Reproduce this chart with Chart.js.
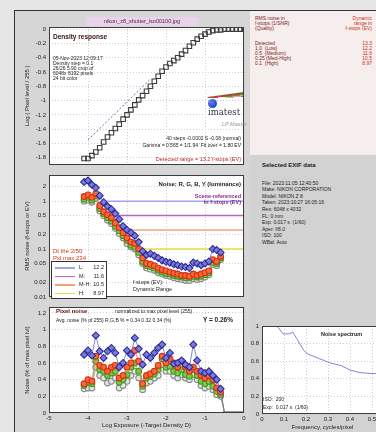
<!DOCTYPE html>
<html>
<head>
<meta charset="utf-8">
<script src="https://cdn.jsdelivr.net/npm/chart.js@4.4.0/dist/chart.umd.min.js"></script>
<style>
html, body { margin: 0; padding: 0; width: 376px; height: 432px; overflow: hidden; background: #e6e6e6; }
body { position: relative; font-family: 'Liberation Sans', Arial, sans-serif; }
.box { position: absolute; box-sizing: border-box; }
canvas { position: absolute; }
.t { position: absolute; white-space: nowrap; font-size: 5.5px; line-height: 1; color: #222; }
.b { font-weight: bold; }
</style>
</head>
<body>
<!-- figure backgrounds -->
<div class="box" style="left:14px;top:10px;width:236px;height:422px;background:#d6d6d6;border-left:1px solid #333;border-top:1px solid #333;"></div>
<div class="box" style="left:250px;top:10px;width:126px;height:145px;background:#f6eeec;border-top:1px solid #333;"></div>
<div class="box" style="left:250px;top:155px;width:126px;height:277px;background:#d2d2d2;"></div>

<canvas id="densityChart" width="236" height="156" style="left:14px;top:14px;"></canvas>
<canvas id="noiseChart" width="236" height="132" style="left:14px;top:170px;"></canvas>
<canvas id="pixelChart" width="236" height="130" style="left:14px;top:302px;"></canvas>
<canvas id="spectrumChart" width="142" height="114" style="left:250px;top:318px;"></canvas>

<!-- density response texts -->
<div class="box" style="left:86px;top:17px;width:112px;height:9px;background:#e9d3e9;"></div>
<div class="t" style="left:86px;top:19px;width:112px;text-align:center;color:#5a2050;">nikon_z8_shutter_iso00100.jpg</div>
<div class="t b" style="left:53px;top:34px;font-size:6.5px;color:#3a1010;">Density response</div>
<div class="t" style="left:53px;top:55.5px;font-size:5px;">05-Nov-2023 12:09:17</div>
<div class="t" style="left:53px;top:60.5px;font-size:5px;">Density step = 0.1</div>
<div class="t" style="left:53px;top:65.5px;font-size:5px;">26/26 5.90 crop of</div>
<div class="t" style="left:53px;top:70.5px;font-size:5px;">6048x 8192 pixels</div>
<div class="t" style="left:53px;top:75.5px;font-size:5px;">24 bit color</div>
<div class="box" style="left:207px;top:92px;width:0;height:0;border-left:36px solid transparent;border-bottom:5px solid #30b030;"></div>
<div class="box" style="left:207px;top:93px;width:36px;height:5px;background:linear-gradient(172deg, transparent 45%, #e03040 46%, #e03040 60%, transparent 61%, transparent 70%, #f0a0b0 71%, #f0a0b0 82%, transparent 83%);"></div>
<div class="box" style="left:208px;top:99px;width:9px;height:9px;border-radius:50%;background:radial-gradient(circle at 35% 35%, #6080ff, #1030a0);"></div>
<div class="t" style="left:208px;top:108px;font-size:8.5px;font-family:'DejaVu Serif',serif;color:#303850;">imatest</div>
<div class="t" style="left:222px;top:122px;font-size:5.5px;font-style:italic;color:#999;">LP Master</div>
<div class="t" style="right:135px;top:136px;font-size:5px;">40 steps -0.0002 S -0.08 (normal)</div>
<div class="t" style="right:135px;top:143px;font-size:5px;">Gamma = 0.565 = 1/1.94 &nbsp;Fit over = 1.80 EV</div>
<div class="t" style="right:135px;top:157px;font-size:5.5px;color:#c02020;">Detected range = 13.2 f-stops (EV)</div>

<!-- noise texts -->
<div class="t b" style="right:135px;top:181px;font-size:6px;">Noise: R, G, B, Y (luminance)</div>
<div class="t b" style="right:135px;top:194px;color:#8a2a8a;">Scene-referenced</div>
<div class="t b" style="right:135px;top:199.5px;color:#8a2a8a;">in f-stops (EV)</div>
<div class="t" style="left:53px;top:248px;font-size:6px;color:#e03010;">Dt the 2/50</div>
<div class="t" style="left:53px;top:254.5px;font-size:6px;color:#e03010;">Pxl max 234</div>
<div class="t" style="left:133px;top:280px;">f-stops (EV):</div>
<div class="t" style="left:133px;top:287px;">Dynamic Range</div>
<div class="box" id="legendBox" style="left:51px;top:261px;width:56px;height:38px;background:#fff;border:1px solid #333;"></div>

<!-- pixel noise texts -->
<div class="t b" style="left:56px;top:308px;font-size:6px;color:#6a1010;">Pixel noise</div>
<div class="t" style="left:115px;top:309px;font-size:5px;">normalized to max pixel level (255)</div>
<div class="t" style="left:56px;top:318px;font-size:5px;">Avg. noise (% of 255) R,G,B % = 0.34 0.32 0.34 (%)</div>
<div class="t b" style="right:143px;top:317px;font-size:6.5px;">Y = 0.26%</div>

<!-- right panel -->
<div class="t" style="left:255px;top:15.5px;font-size:5px;color:#802020;">RMS noise in</div>
<div class="t" style="left:255px;top:20.5px;font-size:5px;color:#802020;">f-stops (1/SNR)</div>
<div class="t" style="left:255px;top:25.5px;font-size:5px;color:#802020;">(Quality)</div>
<div class="t" style="right:4px;top:15.5px;font-size:5px;color:#cc2a20;text-align:right;">Dynamic</div>
<div class="t" style="right:4px;top:20.5px;font-size:5px;color:#cc2a20;">range in</div>
<div class="t" style="right:4px;top:25.5px;font-size:5px;color:#cc2a20;">f-stops (EV)</div>
<div id="drTable"></div>

<div class="t b" style="left:262px;top:162px;font-size:6px;">Selected EXIF data</div>
<div id="exifList"></div>

<!-- spectrum texts -->
<div class="t b" style="left:321px;top:332px;font-size:5.5px;">Noise spectrum</div>
<div class="t" style="left:263px;top:397px;font-size:5px;">ISO: &nbsp;200</div>
<div class="t" style="left:263px;top:405px;font-size:5px;">Exp: &nbsp;0.017 s &nbsp;(1/60)</div>

<script>
// x positions (log exposure), one per density step
const logExposure = [-4.1, -4.0, -3.9, -3.8, -3.7, -3.6, -3.5, -3.4, -3.3, -3.2, -3.1, -3.0, -2.9, -2.8,
    -2.7, -2.6, -2.5, -2.4, -2.3, -2.2, -2.1, -2.0, -1.9, -1.8, -1.7, -1.6, -1.5, -1.4, -1.3, -1.2,
    -1.1, -1.0, -0.9, -0.8, -0.7, -0.6, -0.5, -0.4, -0.3, -0.2, -0.1, 0.0];
const densityLevel = [-1.81, -1.81, -1.77, -1.72, -1.66, -1.58, -1.51, -1.45, -1.39, -1.33, -1.26, -1.20,
    -1.13, -1.06, -0.99, -0.93, -0.87, -0.80, -0.73, -0.66, -0.59, -0.53, -0.48, -0.44, -0.40, -0.35,
    -0.30, -0.24, -0.19, -0.14, -0.10, -0.07, -0.04, -0.02, -0.01, -0.01, 0, 0, 0, 0, 0, 0];
const gammaFitX = [-4.0, -2.4];
const gammaFitY = [-1.55, -0.70];

// RMS noise in f-stops, x = -4.1 .. -0.6
const noiseB = [2.5, 2.7, 2.2, 1.9, 1.3, 0.95, 0.78, 0.68, 0.55, 0.42, 0.30, 0.25, 0.22, 0.19, 0.14, 0.09,
    0.075, 0.08, 0.072, 0.065, 0.058, 0.054, 0.052, 0.048, 0.046, 0.043, 0.042, 0.040, 0.052, 0.050,
    0.046, 0.050, 0.055, 0.10, 0.095, 0.085];
const noiseR = [1.25, 1.35, 1.2, 1.45, 0.80, 0.60, 0.52, 0.45, 0.35, 0.28, 0.22, 0.17, 0.14, 0.13, 0.10,
    0.065, 0.050, 0.048, 0.045, 0.040, 0.037, 0.035, 0.033, 0.031, 0.030, 0.028, 0.028, 0.027, 0.030,
    0.028, 0.030, 0.032, 0.035, 0.060, 0.055, 0.070];
const noiseG = [1.1, 1.2, 1.05, 1.3, 0.70, 0.55, 0.45, 0.38, 0.30, 0.24, 0.19, 0.15, 0.12, 0.11, 0.085,
    0.055, 0.045, 0.043, 0.040, 0.036, 0.033, 0.031, 0.030, 0.028, 0.027, 0.026, 0.025, 0.025, 0.027,
    0.026, 0.027, 0.029, 0.032, 0.052, 0.050, 0.065];
const noiseY = [1.0, 1.05, 0.95, 1.15, 0.62, 0.50, 0.40, 0.34, 0.27, 0.21, 0.17, 0.13, 0.11, 0.10, 0.075,
    0.050, 0.040, 0.038, 0.036, 0.032, 0.030, 0.028, 0.027, 0.025, 0.024, 0.023, 0.022, 0.022, 0.024,
    0.023, 0.024, 0.026, 0.029, 0.047, 0.045, 0.060];

// quality thresholds drawn as horizontal lines
const qualityLevels = [1.0, 0.5, 0.25, 0.1];
const qualityStart = [-3.65, -3.4, -3.05, -2.65];
const qualityNames = ['L:', 'M:', 'M-H:', 'H:'];
const qualityColors = ['#a4a4ec', '#c460c4', '#f2a478', '#e8dc40'];
const qualityLabels = ['1.0  (Low)', '0.5  (Medium)', '0.25 (Med-High)', '0.1  (High)'];
const dynamicRange = ['12.2', '11.6', '10.5', '8.97'];
const detectedRange = '13.3';

// pixel noise (% of 255), x = -4.1 .. -0.5 (last one saturated)
const pixelB = [0.70, 0.75, 0.69, 0.93, 0.74, 0.66, 0.74, 0.78, 0.72, 0.55, 0.60, 0.75, 0.70, 0.90, 0.77,
    0.58, 0.70, 0.66, 0.72, 0.78, 0.82, 0.66, 0.72, 0.59, 0.60, 0.63, 0.58, 0.55, 0.82, 0.63, 0.50,
    0.48, 0.50, 0.45, 0.40, 0.29, 0];
const pixelR = [0.35, 0.40, 0.38, 0.68, 0.57, 0.55, 0.50, 0.55, 0.57, 0.42, 0.45, 0.55, 0.60, 0.75, 0.62,
    0.35, 0.45, 0.47, 0.50, 0.57, 0.68, 0.60, 0.65, 0.60, 0.55, 0.62, 0.55, 0.50, 0.55, 0.50, 0.45,
    0.42, 0.45, 0.40, 0.30, 0.25, 0];
const pixelG = [0.33, 0.37, 0.35, 0.62, 0.52, 0.50, 0.45, 0.48, 0.50, 0.37, 0.40, 0.46, 0.55, 0.60, 0.50,
    0.32, 0.42, 0.44, 0.47, 0.52, 0.65, 0.55, 0.56, 0.50, 0.48, 0.52, 0.46, 0.44, 0.52, 0.45, 0.38,
    0.35, 0.38, 0.32, 0.26, 0.22, 0];
const pixelY = [0.29, 0.30, 0.30, 0.55, 0.45, 0.42, 0.36, 0.38, 0.42, 0.30, 0.33, 0.38, 0.45, 0.50, 0.42,
    0.28, 0.36, 0.38, 0.42, 0.45, 0.58, 0.50, 0.50, 0.45, 0.42, 0.46, 0.42, 0.40, 0.46, 0.40, 0.33,
    0.30, 0.32, 0.28, 0.22, 0.20, 0];
const saturatedY = [0, 0, 0, 0, 0, 0];

// noise spectrum
const spectrumFreq = [0.04, 0.068, 0.096, 0.123, 0.14, 0.16, 0.19, 0.21, 0.25, 0.31, 0.36, 0.40, 0.445, 0.50, 0.55];
const spectrumPower = [1.08, 1.0, 0.91, 0.91, 0.93, 0.85, 0.72, 0.68, 0.64, 0.58, 0.55, 0.50, 0.47, 0.46, 0.46];

// tick labels
const exposureTicks = [-5, -4, -3, -2, -1, 0];
const densityTicks = [0, -0.2, -0.4, -0.6, -0.8, -1, -1.2, -1.4, -1.6, -1.8];
const noiseTicks = [0.01, 0.02, 0.05, 0.1, 0.2, 0.5, 1, 2];
const pixelTicks = [0, 0.2, 0.4, 0.6, 0.8, 1, 1.2];
const freqTicks = [0, 0.1, 0.2, 0.3, 0.4, 0.5];
const spectrumTicks = [0, 0.2, 0.4, 0.6, 0.8, 1];

const exifLines = ['File: 2023:11:05 12:40:50', 'Make: NIKON CORPORATION', 'Model: NIKON Z 8',
    'Taken: 2023:10:27 16:05:16', 'Res: 6048 x 4032', 'FL: 0 mm', 'Exp: 0.017 s  (1/60)',
    'Aper: f/8.0', 'ISO: 100', 'WBal: Auto'];

const tickFont = { family: "'Liberation Sans', Arial, sans-serif", size: 6 };
const titleFont = { family: "'Liberation Sans', Arial, sans-serif", size: 6 };

function pts(xs, ys) {
    return ys.map((y, i) => ({ x: xs[i], y: y }));
}

// pin axis size and drop the automatic label padding so plot boxes land where we want
function pinAxis(size) {
    return function (scale) {
        if (scale.isHorizontal()) scale.height = size; else scale.width = size;
        scale.paddingTop = 0; scale.paddingBottom = 0;
        scale.paddingLeft = 0; scale.paddingRight = 0;
    };
}

function fixTicks(values) {
    return function (scale) { scale.ticks = values.map(v => ({ value: v })); };
}

function fmt(v) {
    return String(Number(v.toFixed(2)));
}

function axis(opts) {
    return {
        type: opts.type || 'linear',
        min: opts.min,
        max: opts.max,
        afterBuildTicks: fixTicks(opts.ticks),
        afterFit: pinAxis(opts.size),
        grid: { color: '#cdcdcd', lineWidth: 1, drawTicks: false },
        border: { display: false, dash: [1, 2] },
        ticks: { display: opts.labels !== false, color: '#222', font: tickFont, padding: opts.pad || 3,
            autoSkip: false, maxRotation: 0, callback: v => fmt(v) },
        title: opts.title ? { display: true, text: opts.title, color: '#222', font: titleFont,
            padding: opts.titlePad } : { display: false }
    };
}

const plotFrame = {
    id: 'plotFrame',
    beforeDraw(chart) {
        const a = chart.chartArea, ctx = chart.ctx;
        ctx.save();
        ctx.fillStyle = '#fff';
        ctx.fillRect(a.left, a.top, a.right - a.left, a.bottom - a.top);
        ctx.restore();
    },
    afterDraw(chart) {
        const a = chart.chartArea, ctx = chart.ctx;
        ctx.save();
        ctx.strokeStyle = '#3c3c3c';
        ctx.lineWidth = 1;
        ctx.strokeRect(Math.round(a.left) + 0.5, Math.round(a.top) + 0.5,
            Math.round(a.right - a.left) - 1, Math.round(a.bottom - a.top) - 1);
        ctx.restore();
    }
};

const baseOptions = {
    responsive: false,
    animation: false,
    devicePixelRatio: 1,
    plugins: { legend: { display: false }, tooltip: { enabled: false } }
};

function marker(style, border, fill, line) {
    return { showLine: true, borderColor: line, borderWidth: 0.8, pointStyle: style,
        pointBorderColor: border, pointBackgroundColor: fill, pointBorderWidth: 1.1,
        pointRadius: ctx => (ctx.raw && ctx.raw.y === 0 ? 0 : (style === 'rectRot' ? 3.5 : 2.9)) };
}

const blueStyle = marker('rectRot', '#2a2a9a', '#7a7ad8', '#6a6acc');
const redStyle = marker('circle', '#d83010', '#f46a3a', '#f07050');
const greenStyle = marker('circle', '#3c9c1c', '#7cc84a', '#78c050');
const grayStyle = marker('circle', '#8a8a8a', '#e4e4e4', '#a0a0a0');

const noiseX = logExposure.slice(0, noiseB.length);
const pixelX = logExposure.slice(0, pixelB.length);
const saturatedX = logExposure.slice(pixelB.length - 1, pixelB.length - 1 + saturatedY.length);

Chart.defaults.font.family = "'Liberation Sans', Arial, sans-serif";

// density response
new Chart(document.getElementById('densityChart'), {
    type: 'scatter',
    data: {
        datasets: [{
            data: pts(logExposure, densityLevel),
            pointStyle: 'rect', pointRadius: 3.2, borderColor: '#3a3a3a', backgroundColor: 'rgba(0,0,0,0)',
            borderWidth: 1.1
        }, {
            data: pts(gammaFitX, gammaFitY),
            showLine: true, pointRadius: 0, borderColor: '#6a6ac8', borderWidth: 1, borderDash: [2, 2]
        }]
    },
    options: Object.assign({}, baseOptions, {
        layout: { padding: { top: 13, right: 6, bottom: 2, left: 0 } },
        scales: {
            x: axis({ min: -5, max: 0, ticks: exposureTicks, size: 0, labels: false }),
            y: axis({ min: -1.9, max: 0.03, ticks: densityTicks, size: 35,
                title: 'Log ( Pixel level / 255 )', titlePad: { top: 10 } })
        }
    }),
    plugins: [plotFrame]
});

// noise in f-stops
const noiseSets = [
    Object.assign({ data: pts(noiseX, noiseB) }, blueStyle),
    Object.assign({ data: pts(noiseX, noiseR) }, redStyle),
    Object.assign({ data: pts(noiseX, noiseG) }, greenStyle),
    Object.assign({ data: pts(noiseX, noiseY) }, grayStyle)
];
qualityLevels.forEach((q, i) => {
    noiseSets.push({ data: [{ x: qualityStart[i], y: q }, { x: 0, y: q }], showLine: true, pointRadius: 0,
        borderColor: qualityColors[i], borderWidth: 1.5 });
});
new Chart(document.getElementById('noiseChart'), {
    type: 'scatter',
    data: { datasets: noiseSets },
    options: Object.assign({}, baseOptions, {
        layout: { padding: { top: 3, right: 6, bottom: 2, left: 0 } },
        scales: {
            x: axis({ min: -5, max: 0, ticks: exposureTicks, size: 0, labels: false }),
            y: axis({ type: 'logarithmic', min: 0.01, max: 3.5, ticks: noiseTicks, size: 35,
                title: 'RMS noise (f-stops or EV)', titlePad: { top: 10 } })
        }
    }),
    plugins: [plotFrame]
});

// pixel noise
new Chart(document.getElementById('pixelChart'), {
    type: 'scatter',
    data: {
        datasets: [
            Object.assign({ data: pts(pixelX, pixelB) }, blueStyle),
            Object.assign({ data: pts(pixelX, pixelR) }, redStyle),
            Object.assign({ data: pts(pixelX, pixelG) }, greenStyle),
            Object.assign({ data: pts(pixelX, pixelY) }, grayStyle),
            { data: pts(saturatedX, saturatedY), showLine: true, borderColor: '#8a8a8a', borderWidth: 0.8,
                pointStyle: 'rect', pointRadius: 2.2, pointBorderColor: '#7a7a7a', pointBackgroundColor: '#d8d8d8' }
        ]
    },
    options: Object.assign({}, baseOptions, {
        layout: { padding: { top: 2, right: 6, bottom: 0, left: 0 } },
        scales: {
            x: axis({ min: -5, max: 0, ticks: exposureTicks, size: 19, pad: 2,
                title: 'Log Exposure (-Target Density D)', titlePad: { bottom: 3 } }),
            y: axis({ min: 0, max: 1.27, ticks: pixelTicks, size: 35,
                title: 'Noise (% of max pixel lvl)', titlePad: { top: 10 } })
        }
    }),
    plugins: [plotFrame]
});

// noise spectrum
new Chart(document.getElementById('spectrumChart'), {
    type: 'scatter',
    data: {
        datasets: [{ data: pts(spectrumFreq, spectrumPower), showLine: true, pointRadius: 0,
            borderColor: '#8484da', borderWidth: 1 }]
    },
    options: Object.assign({}, baseOptions, {
        layout: { padding: { top: 8, right: 9, bottom: 0, left: 0 } },
        scales: {
            x: axis({ min: 0, max: 0.55, ticks: freqTicks, size: 18, pad: 2,
                title: 'Frequency, cycles/pixel', titlePad: { bottom: 1.5 } }),
            y: axis({ min: 0, max: 1, ticks: spectrumTicks, size: 12 })
        }
    }),
    plugins: [plotFrame]
});

// legend of quality lines inside noise plot
const legendBox = document.getElementById('legendBox');
qualityNames.forEach((name, i) => {
    const cy = 6 + i * 8.5;
    const line = document.createElement('div');
    line.className = 'box';
    line.style.cssText = `left:3px;top:${cy - 0.75}px;width:20px;height:1.5px;background:${qualityColors[i]};`;
    legendBox.appendChild(line);
    const lab = document.createElement('div');
    lab.className = 't';
    lab.style.cssText = `left:27px;top:${cy - 3}px;font-size:5.5px;`;
    lab.textContent = name;
    legendBox.appendChild(lab);
    const val = document.createElement('div');
    val.className = 't';
    val.style.cssText = `right:2px;top:${cy - 3}px;font-size:5.5px;`;
    val.textContent = dynamicRange[i];
    legendBox.appendChild(val);
});

// dynamic range table in the right panel
const drTable = document.getElementById('drTable');
['Detected'].concat(qualityLabels).forEach((label, i) => {
    const top = 40.5 + i * 5;
    const l = document.createElement('div');
    l.className = 't';
    l.style.cssText = `left:255px;top:${top}px;font-size:5px;color:#802020;white-space:pre;`;
    l.textContent = label;
    drTable.appendChild(l);
    const v = document.createElement('div');
    v.className = 't';
    v.style.cssText = `right:4px;top:${top}px;font-size:5px;color:#cc2a20;`;
    v.textContent = i === 0 ? detectedRange : dynamicRange[i - 1];
    drTable.appendChild(v);
});

// EXIF list
const exifList = document.getElementById('exifList');
exifLines.forEach((text, i) => {
    const d = document.createElement('div');
    d.className = 't';
    d.style.cssText = `left:262px;top:${180.5 + i * 6.6}px;font-size:5px;white-space:pre;`;
    d.textContent = text;
    exifList.appendChild(d);
});
</script>
</body>
</html>
